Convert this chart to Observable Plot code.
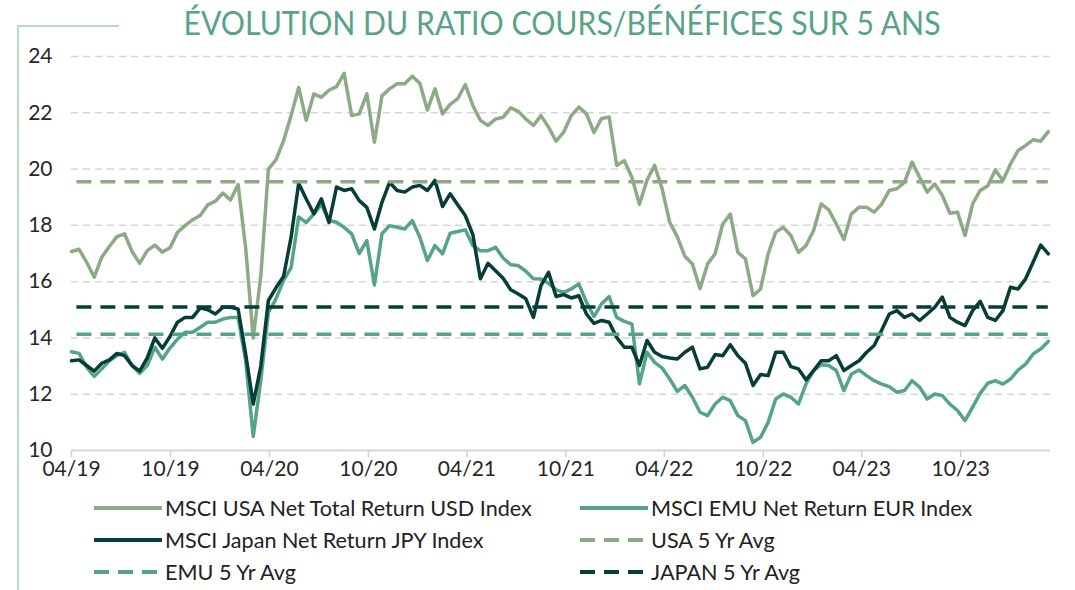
<!DOCTYPE html>
<html>
<head>
<meta charset="utf-8">
<script src="https://cdn.jsdelivr.net/npm/d3@7"></script>
<script src="https://cdn.jsdelivr.net/npm/@observablehq/plot@0.6"></script>
<style>
  html, body { margin: 0; padding: 0; background: #fff; }
  #wrap { position: relative; width: 1075px; height: 590px; overflow: hidden; font-family: Lato, "Open Sans", sans-serif; }
  #frame { position: absolute; left: 17px; top: 25px; width: 100px; height: 570px; border-left: 2px solid #bcd9c4; border-top: 2px solid #bcd9c4; }
  #title { position: absolute; top: 2px; left: 562px; transform: translateX(-50%) scaleX(0.915); white-space: nowrap; font-size: 33px; line-height: 40px; color: #58a385; }
  #chart { position: absolute; left: 0; top: 40px; }
  .leg { position: absolute; display: flex; align-items: center; font-size: 21.6px; color: #222; white-space: nowrap; height: 30px; }
  .leg svg { margin-right: 3px; }
</style>
</head>
<body>
<div id="wrap">
  <div id="frame"></div>
  <div id="title">ÉVOLUTION DU RATIO COURS/BÉNÉFICES SUR 5 ANS</div>
  <div id="chart"></div>
</div>
<script>
// ---- data (biweekly readings, starting April 2019) ----
const startDate = "2019-04-01";
const stepDays = 14;
const usa = [17.07, 17.15, 16.69, 16.16, 16.87, 17.25, 17.6, 17.7, 17.07, 16.65, 17.1, 17.3, 17.05, 17.2, 17.75, 17.99, 18.2, 18.35, 18.73, 18.86, 19.15, 18.9, 19.45, 17.2, 14.0,
  16.2, 20.0, 20.33, 21.0, 21.9, 22.9, 21.73, 22.67, 22.55, 22.8, 22.93, 23.4, 21.9, 21.96, 22.67, 20.95, 22.6, 22.85, 23.03, 23.03, 23.3, 23.05, 22.1, 22.85, 21.96, 22.3,
  22.5, 23.0, 22.26, 21.73, 21.55, 21.78, 21.84, 22.18, 22.05, 21.78, 21.55, 21.9, 21.49, 20.99, 21.31, 21.9, 22.2, 21.96, 21.3, 21.8, 21.85, 20.13, 20.3, 19.71, 18.75, 19.6,
  20.13, 19.3, 18.11, 17.6, 16.9, 16.63, 15.75, 16.63, 16.99, 18.05, 18.4, 17.04, 16.81, 15.5, 15.74, 16.99, 17.76, 17.93, 17.64, 17.04, 17.28, 17.82, 18.76, 18.55, 18.05, 17.5,
  18.41, 18.64, 18.64, 18.47, 18.76, 19.24, 19.3, 19.53, 20.25, 19.71, 19.18, 19.47, 19.06, 18.43, 18.47, 17.64, 18.76, 19.24, 19.41, 19.97, 19.59, 20.18, 20.66, 20.84, 21.04, 20.99, 21.33];
const emu = [13.51, 13.45, 12.96, 12.63, 12.9, 13.19, 13.37, 13.49, 13.02, 12.74, 13.02, 13.67, 13.25, 13.64, 13.96, 14.2, 14.2, 14.38, 14.56, 14.56, 14.67, 14.73, 14.73, 13.19, 10.5,
  12.5, 14.9, 15.39, 16.04, 16.5, 18.3, 18.1, 18.4, 18.74, 18.17, 18.11, 17.93, 17.7, 17.0, 17.46, 15.88, 17.7, 17.99, 17.93, 17.87, 18.17, 17.58, 16.75, 17.28, 16.99, 17.72,
  17.78, 17.84, 17.28, 17.1, 17.1, 17.22, 16.84, 16.6, 16.57, 16.37, 16.1, 16.09, 15.94, 15.71, 15.62, 15.74, 15.92, 15.27, 14.76, 15.21, 15.47, 14.73, 14.59, 14.5, 12.37, 13.49,
  13.13, 12.93, 12.54, 12.1, 12.31, 11.89, 11.36, 11.24, 11.65, 11.89, 11.77, 11.24, 11.06, 10.29, 10.47, 11.0, 11.83, 12.01, 11.89, 11.65, 12.37, 12.84, 13.05, 13.02, 12.84, 12.13,
  12.72, 12.86, 12.66, 12.48, 12.36, 12.27, 12.07, 12.13, 12.48, 12.25, 11.83, 12.01, 11.95, 11.65, 11.42, 11.06, 11.54, 12.03, 12.39, 12.48, 12.36, 12.54, 12.86, 13.07, 13.43, 13.61, 13.88];
const jpn = [13.19, 13.22, 13.02, 12.82, 13.1, 13.22, 13.45, 13.37, 13.02, 12.82, 13.29, 14.0, 13.63, 14.05, 14.56, 14.73, 14.73, 15.07, 15.0, 14.85, 15.09, 15.09, 15.03, 13.43, 11.65,
  13.0, 15.33, 15.78, 16.18, 17.58, 19.5, 18.94, 18.41, 18.94, 18.1, 19.36, 19.24, 19.3, 18.88, 18.64, 17.87, 18.82, 19.53, 19.24, 19.18, 19.36, 19.42, 19.24, 19.6, 18.67, 19.12,
  18.73, 18.35, 17.67, 16.1, 16.65, 16.39, 16.12, 15.71, 15.56, 15.39, 14.73, 15.86, 16.33, 15.47, 15.54, 15.42, 15.5, 14.85, 14.52, 14.62, 14.56, 14.02, 13.67, 13.67, 13.02, 13.91,
  13.49, 13.34, 13.29, 13.25, 13.49, 13.67, 12.9, 12.96, 13.41, 13.37, 13.76, 13.37, 13.1, 12.31, 12.7, 12.66, 13.49, 13.49, 12.98, 12.9, 12.51, 12.84, 13.19, 13.19, 13.37, 12.84,
  13.02, 13.19, 13.49, 13.73, 14.28, 14.85, 14.97, 14.73, 14.85, 14.62, 14.85, 15.09, 15.45, 14.73, 14.56, 14.44, 14.97, 15.3, 14.73, 14.62, 14.97, 15.8, 15.74, 16.1, 16.7, 17.3, 16.99];
const usaAvg = 19.55;
const emuAvg = 14.13;
const jpnAvg = 15.1;
const xTickDates = ["2019-04-01","2019-10-01","2020-04-01","2020-10-01","2021-04-01","2021-10-01","2022-04-01","2022-10-01","2023-04-01","2023-10-01"];
const xTickLabels = ["04/19","10/19","04/20","10/20","04/21","10/21","04/22","10/22","04/23","10/23"];
const yTicks = [10, 12, 14, 16, 18, 20, 22, 24];
const seriesNames = ["MSCI USA Net Total Return USD Index", "MSCI EMU Net Return EUR Index", "MSCI Japan Net Return JPY Index", "USA 5 Yr Avg", "EMU 5 Yr Avg", "JAPAN 5 Yr Avg"];

// ---- styles ----
const cUSA = "#8caa85", cEMU = "#56a487", cJPN = "#063e37";
const start = new Date(startDate + "T00:00:00Z");
const dates = usa.map((_, i) => d3.utcDay.offset(start, i * stepDays));
const endDomain = new Date("2024-03-15T00:00:00Z");
const tickD = xTickDates.map(s => new Date(s + "T00:00:00Z"));
const lastDate = dates[dates.length - 1];

const toRows = arr => arr.map((v, i) => ({date: dates[i], v}));

const chart = Plot.plot({
  width: 1075,
  height: 450,
  marginLeft: 71,
  marginRight: 25,
  marginTop: 16,
  marginBottom: 40,
  style: {fontFamily: "Lato, 'Open Sans', sans-serif", fontSize: "21px", color: "#262626", background: "transparent", overflow: "visible"},
  x: {type: "utc", domain: [start, endDomain], label: null},
  y: {domain: [10, 24], label: null},
  marks: [
    Plot.gridY(yTicks.filter(t => t > 10), {stroke: "#d6d6d6", strokeOpacity: 1, strokeWidth: 1.5, strokeDasharray: "7,5"}),
    Plot.ruleY([10], {stroke: "#d6d6d6", strokeWidth: 2}),
    Plot.axisY({ticks: yTicks, tickSize: 0, tickPadding: 19, fontSize: 21, fill: "#262626", label: null}),
    Plot.axisX({ticks: tickD, tickSize: 7, tickPadding: 4, stroke: "#d0d0d0", strokeWidth: 1.5, fill: "#262626", fontSize: 21, label: null,
      tickFormat: d => xTickLabels[tickD.findIndex(t => +t === +d)]}),
    Plot.lineY(toRows(usa), {x: "date", y: "v", stroke: cUSA, strokeWidth: 3.5, strokeLinejoin: "round"}),
    Plot.lineY(toRows(emu), {x: "date", y: "v", stroke: cEMU, strokeWidth: 3.5, strokeLinejoin: "round"}),
    Plot.lineY(toRows(jpn), {x: "date", y: "v", stroke: cJPN, strokeWidth: 3.5, strokeLinejoin: "round"}),
    Plot.ruleY([usaAvg], {x1: d3.utcDay.offset(start, 10), x2: lastDate, stroke: cUSA, strokeWidth: 3.5, strokeDasharray: "15,9"}),
    Plot.ruleY([emuAvg], {x1: d3.utcDay.offset(start, 10), x2: lastDate, stroke: cEMU, strokeWidth: 3.5, strokeDasharray: "15,9"}),
    Plot.ruleY([jpnAvg], {x1: d3.utcDay.offset(start, 10), x2: lastDate, stroke: cJPN, strokeWidth: 3.5, strokeDasharray: "15,9"})
  ]
});
document.getElementById("chart").appendChild(chart);

// ---- legend ----
const legItems = [
  {name: seriesNames[0], color: cUSA, dash: null, left: 94, top: 493},
  {name: seriesNames[1], color: cEMU, dash: null, left: 580, top: 493},
  {name: seriesNames[2], color: cJPN, dash: null, left: 94, top: 525},
  {name: seriesNames[3], color: cUSA, dash: "15,9", left: 580, top: 525},
  {name: seriesNames[4], color: cEMU, dash: "15,9", left: 94, top: 557},
  {name: seriesNames[5], color: cJPN, dash: "15,9", left: 580, top: 557}
];
const wrap = document.getElementById("wrap");
legItems.forEach(it => {
  const div = document.createElement("div");
  div.className = "leg";
  div.style.left = it.left + "px";
  div.style.top = it.top + "px";
  div.innerHTML = `<svg width="68" height="10"><line x1="0" x2="68" y1="5" y2="5" stroke="${it.color}" stroke-width="4" ${it.dash ? `stroke-dasharray="${it.dash}"` : ""}/></svg><span>${it.name}</span>`;
  wrap.appendChild(div);
});
</script>
</body>
</html>
